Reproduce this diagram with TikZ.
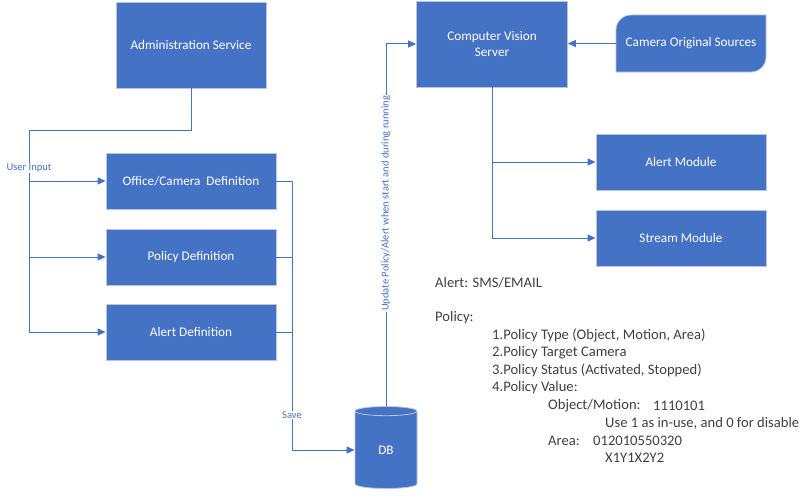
\documentclass[tikz,border=0pt]{standalone}
\usepackage{fontspec}
\setmainfont{Carlito}
\usetikzlibrary{arrows.meta,shapes.geometric}
\definecolor{boxblue}{HTML}{4472C4}
\definecolor{boxline}{HTML}{BCC5D8}
\definecolor{notegray}{HTML}{404040}

\begin{document}
\begin{tikzpicture}[x=1pt,y=-1pt,
  blk/.style={draw=boxline, line width=0.8pt, fill=boxblue, text=white,
    font=\fontsize{13.2}{16}\selectfont, minimum width=170pt, minimum height=56pt,
    inner sep=0pt, align=center},
  link/.style={draw=boxblue, line width=1pt},
  arr/.style={link, -{Triangle[length=8pt,width=7pt]}},
  lbl/.style={text=boxblue, font=\fontsize{10.5}{12}\selectfont, fill=white, inner sep=1pt},
  note/.style={anchor=west, text=notegray, font=\fontsize{14.6}{17}\selectfont, inner sep=0pt}]
  \useasboundingbox (0,0) rectangle (808,495);

  \node[blk, minimum width=150pt, minimum height=86pt] (admin) at (191,45) {Administration Service};
  \node[blk] (ocdef) at (191,181) {Office/Camera\ \ Definition};
  \node[blk] (poldef) at (191,257) {Policy Definition};
  \node[blk] (aldef) at (191,332) {Alert Definition};
  \node[blk, shape=cylinder, shape border rotate=90, aspect=0.6,
    minimum width=62pt, minimum height=82pt] (db) at (386,450) {DB};

  \node[blk, minimum width=151pt, minimum height=86pt] (cvs) at (492,44) {Computer Vision\\Server};
  \draw[draw=boxline, line width=0.8pt, fill=boxblue]
    (616,72) [rounded corners=15pt] -- (616,15) [sharp corners] -- (766,15)
    [rounded corners=15pt] -- (766,72) [sharp corners] -- cycle;
  \node[blk, draw=none, fill=none, minimum width=150pt, minimum height=57pt] (cams) at (691,43.5) {Camera Original Sources};
  \node[blk] (almod) at (681,162) {Alert Module};
  \node[blk] (stmod) at (681,238) {Stream Module};

  \coordinate (uitop) at (29,130);
  \coordinate (svtop) at (292,181);

  \draw[link] (admin.south) |- (uitop) -- (uitop |- aldef.west);
  \foreach \n in {ocdef,poldef,aldef}
    \draw[arr] (uitop |- \n.west) -- (\n.west);
  \node[lbl] (uin) at (29,168) {User Input};

  \foreach \n in {ocdef,poldef,aldef}
    \draw[link] (\n.east) -- (svtop |- \n.east);
  \draw[arr] (svtop) |- (db.west);
  \node[lbl] (save) at (292,415) {Save};

  \draw[arr] (db.north) |- (cvs.west)
    node[lbl, pos=0.28, rotate=90] (upd) {Update Policy/Alert when start and during running};

  \draw[arr] (cams.west) -- (cams.west -| cvs.east);
  \draw[link] (cvs.south) -- (cvs.south |- stmod.west);
  \draw[arr] (cvs.south |- almod.west) -- (almod.west);
  \draw[arr] (cvs.south |- stmod.west) -- (stmod.west);

  \node[note] (alert) at (435,283) {Alert: SMS/EMAIL};
  \node[note] (pol) at (435,318) {Policy:};
  \node[note] (p1) at (492,335) {1.Policy Type (Object, Motion, Area)};
  \node[note] (p2) at (492,353) {2.Policy Target Camera};
  \node[note] (p3) at (492,370) {3.Policy Status (Activated, Stopped)};
  \node[note] (p4) at (492,388) {4.Policy Value:};
  \node[note] (om) at (548,406) {Object/Motion:};
  \node[note] (omv) at (653,406) {1110101};
  \node[note] (use) at (605,423) {Use 1 as in-use, and 0 for disable};
  \node[note] (area) at (548,441) {Area:};
  \node[note] (areav) at (593,441) {012010550320};
  \node[note] (xy) at (605,458) {X1Y1X2Y2};
\end{tikzpicture}
\end{document}
